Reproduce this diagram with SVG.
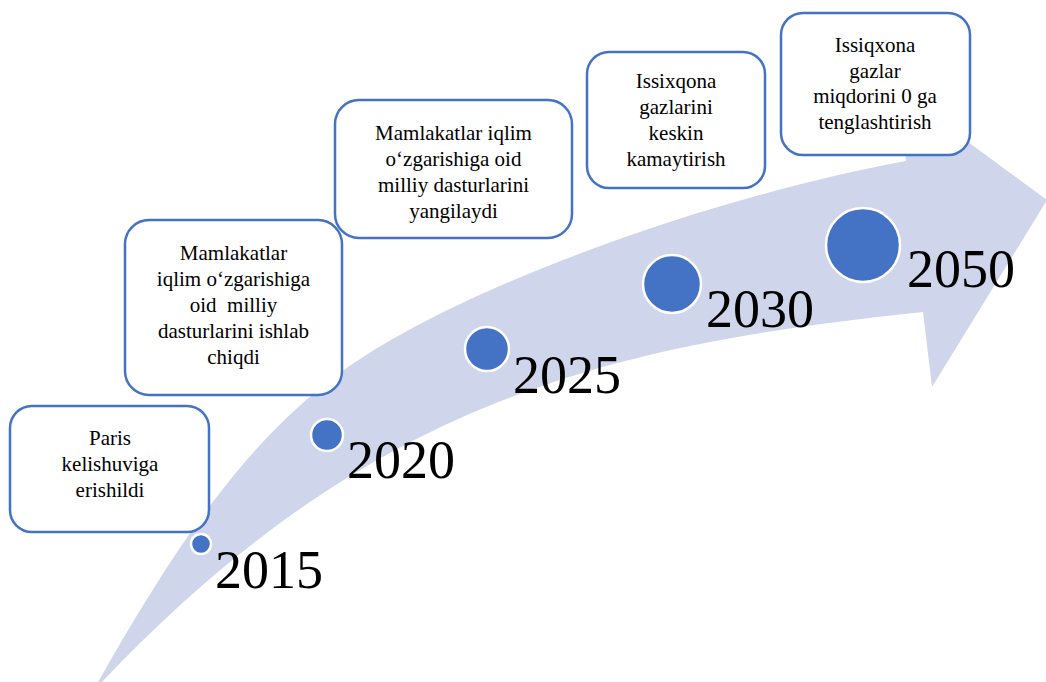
<svg xmlns="http://www.w3.org/2000/svg" width="1046" height="682" viewBox="0 0 1046 682">
<style>
.box{fill:#fff;stroke:#4472C4;stroke-width:2.5}
.t{font-family:"Liberation Serif","Times New Roman",serif;font-size:21px;fill:#000;text-anchor:middle}
.yr{font-family:"Liberation Serif","Times New Roman",serif;font-size:54px;fill:#000}
.dot{fill:#4472C4;stroke:#fff;stroke-width:2.5}
</style>
<rect width="1046" height="682" fill="#fff"/>
<g id="connectors">
<path id="band" fill="#CFD5EA" d="M97,684 C174,548 244,443 340,373 C460,285 720,195 906,161 L900,92 L1047,200 L932,387 L923,312 C610,345 370,398 100,684 Z"/>
</g>
<g id="n2015">
<rect class="box" x="10" y="406" width="199" height="126" rx="22"/>
<text class="t" x="110" y="445">Paris</text>
<text class="t" x="110" y="471">kelishuviga</text>
<text class="t" x="110" y="497">erishildi</text>
<circle class="dot" cx="201" cy="544" r="10"/>
<text class="yr" x="215" y="588">2015</text>
</g>
<g id="n2020">
<rect class="box" x="125" y="220" width="217" height="175" rx="24"/>
<text class="t" x="233.5" y="260">Mamlakatlar</text>
<text class="t" x="233.5" y="286">iqlim o‘zgarishiga</text>
<text class="t" x="233.5" y="312" xml:space="preserve">oid  milliy</text>
<text class="t" x="233.5" y="338">dasturlarini ishlab</text>
<text class="t" x="233.5" y="364">chiqdi</text>
<circle class="dot" cx="327" cy="435" r="16"/>
<text class="yr" x="347" y="478">2020</text>
</g>
<g id="n2025">
<rect class="box" x="335" y="100" width="237" height="138" rx="24"/>
<text class="t" x="453.5" y="140">Mamlakatlar iqlim</text>
<text class="t" x="453.5" y="166">o‘zgarishiga oid</text>
<text class="t" x="453.5" y="192">milliy dasturlarini</text>
<text class="t" x="453.5" y="218">yangilaydi</text>
<circle class="dot" cx="487" cy="349" r="22"/>
<text class="yr" x="513" y="393">2025</text>
</g>
<g id="n2030">
<rect class="box" x="587" y="52" width="178" height="136" rx="22"/>
<text class="t" x="676" y="88">Issixqona</text>
<text class="t" x="676" y="114">gazlarini</text>
<text class="t" x="676" y="140">keskin</text>
<text class="t" x="676" y="166">kamaytirish</text>
<circle class="dot" cx="672" cy="284" r="29"/>
<text class="yr" x="706" y="327">2030</text>
</g>
<g id="n2050">
<rect class="box" x="781" y="13" width="189" height="142" rx="22"/>
<text class="t" x="875" y="52">Issiqxona</text>
<text class="t" x="875" y="78">gazlar</text>
<text class="t" x="875" y="103">miqdorini 0 ga</text>
<text class="t" x="875" y="129">tenglashtirish</text>
<circle class="dot" cx="863" cy="245" r="37"/>
<text class="yr" x="907" y="287">2050</text>
</g>
</svg>
